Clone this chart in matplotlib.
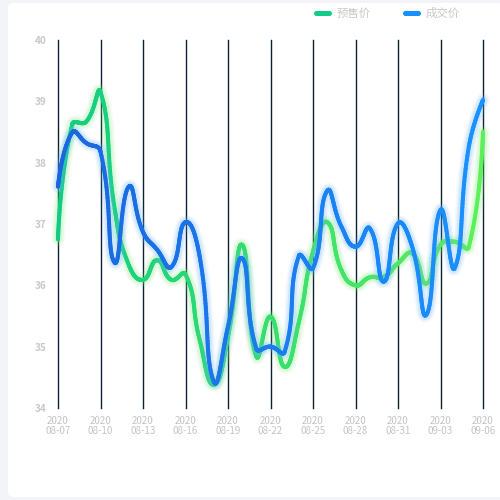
import numpy as np
import matplotlib
matplotlib.use("Agg")
import matplotlib.pyplot as plt
from matplotlib.collections import LineCollection
from matplotlib.patches import FancyBboxPatch
import matplotlib.colors as mcolors

plt.rcParams['font.family'] = ['Noto Sans CJK SC', 'DejaVu Sans']

# ---- data ----
dates = ["08-07", "08-08", "08-09", "08-10", "08-11", "08-12", "08-13", "08-14",
         "08-15", "08-16", "08-17", "08-18", "08-19", "08-20", "08-21", "08-22",
         "08-23", "08-24", "08-25", "08-26", "08-27", "08-28", "08-29", "08-30",
         "08-31", "09-01", "09-02", "09-03", "09-04", "09-05", "09-06"]
year = "2020"
presale = [36.75, 38.62, 38.67, 39.15, 37.25, 36.33, 36.09, 36.41, 36.09, 36.18,
           35.11, 34.38, 35.16, 36.66, 34.84, 35.49, 34.67, 35.40, 36.55, 37.03,
           36.25, 36.00, 36.13, 36.14, 36.36, 36.52, 36.03, 36.66, 36.71, 36.63,
           38.50]
deal = [37.61, 38.49, 38.32, 38.18, 36.37, 37.61, 36.87, 36.58, 36.30, 37.03,
        36.47, 34.43, 35.33, 36.44, 34.97, 35.00, 34.92, 36.48, 36.28, 37.54,
        36.96, 36.63, 36.93, 36.06, 37.01, 36.63, 35.52, 37.23, 36.28, 38.26,
        39.02]
series_names = ["预售价", "成交价"]
y_ticks = [34, 35, 36, 37, 38, 39, 40]
tick_every = 3

W, H = 500, 500
fig = plt.figure(figsize=(5, 5), dpi=100, facecolor="#f3f4f8")
card = FancyBboxPatch((8 / W, 3 / H), 1.1, 494 / H, boxstyle="round,pad=0,rounding_size=0.012",
                      transform=fig.transFigure, facecolor="white", edgecolor="none", zorder=-10)
fig.patches.append(card)

ax = fig.add_axes([58 / W, 1 - 408 / H, (483 - 58) / W, (408 - 40) / H])
ax.set_zorder(5)
ax.set_facecolor("none")
n = len(dates)
x = np.arange(n)
ax.set_xlim(0, n - 1)
ax.set_ylim(34, 40)
for s in ax.spines.values():
    s.set_visible(False)

xt = x[::tick_every]
ax.set_xticks(xt)
ax.set_xticklabels([f"{year}\n{dates[i]}" for i in xt], fontsize=7, color="#c4c4c4",
                   linespacing=0.95)
ax.set_yticks(y_ticks)
ax.set_yticklabels([str(v) for v in y_ticks], fontsize=7.2, color="#c8c8c8", fontweight="bold")
ax.tick_params(axis="both", length=0)
ax.tick_params(axis="x", pad=6)
ax.tick_params(axis="y", pad=8)
for xi in xt:
    ax.axvline(xi, color="#0b2233", lw=1.0, zorder=1, clip_on=False)

fig.canvas.draw()


def smooth_curve(xs, ys, smooth=0.5, per=40):
    pts = ax.transData.transform(np.column_stack([xs, ys]))
    m = len(pts)
    cp_before = pts.copy()
    cp_after = pts.copy()
    for i in range(1, m - 1):
        v = pts[i + 1] - pts[i - 1]
        d0 = np.hypot(*(pts[i] - pts[i - 1]))
        d1 = np.hypot(*(pts[i + 1] - pts[i]))
        s = d0 + d1
        if s > 0:
            d0 /= s
            d1 /= s
        cp_before[i] = pts[i] - v * smooth * d0
        cp_after[i] = pts[i] + v * smooth * d1
    t = np.linspace(0, 1, per)[:, None]
    out = []
    for i in range(m - 1):
        P0, P1, P2, P3 = pts[i], cp_after[i], cp_before[i + 1], pts[i + 1]
        seg = ((1 - t) ** 3) * P0 + 3 * ((1 - t) ** 2) * t * P1 + 3 * (1 - t) * t ** 2 * P2 + t ** 3 * P3
        out.append(seg if i == 0 else seg[1:])
    out = np.vstack(out)
    return ax.transData.inverted().transform(out)


def draw_series(vals, c_left, c_right, glow, z):
    curve = smooth_curve(x, vals)
    # glow
    for lw, a in [(10, 0.07), (8, 0.11), (6, 0.16)]:
        ax.plot(curve[:, 0], curve[:, 1], color=glow, lw=lw, alpha=a,
                solid_capstyle="round", solid_joinstyle="round", zorder=z, clip_on=False)
    segs = np.stack([curve[:-1], curve[1:]], axis=1)
    frac = (segs[:, 0, 0] + segs[:, 1, 0]) / 2 / (n - 1)
    c0 = np.array(mcolors.to_rgb(c_left))
    c1 = np.array(mcolors.to_rgb(c_right))
    cols = c0[None, :] * (1 - frac[:, None]) + c1[None, :] * frac[:, None]
    lc = LineCollection(segs, colors=cols, linewidths=2.9, capstyle="round",
                        joinstyle="round", zorder=z + 1, clip_on=False)
    ax.add_collection(lc)


draw_series(presale, "#10cc86", "#5df05a", "#7ff07a", 3)
draw_series(deal, "#1a66de", "#1a92ff", "#6cb8ff", 5)

# legend
leg = [(314, "#14cc8a", series_names[0]), (403, "#1890ff", series_names[1])]
for lx, col, name in leg:
    p = FancyBboxPatch((lx / W, 1 - 16 / H), 18 / W, 5 / H,
                       boxstyle="round,pad=0,rounding_size=0.005",
                       transform=fig.transFigure, facecolor=col, edgecolor="none")
    fig.patches.append(p)
    fig.text((lx + 23) / W, 1 - 13.5 / H, name, fontsize=8.2, color="#c8c8c8",
             va="center", ha="left")

fig.savefig("out.png", dpi=100, facecolor=fig.get_facecolor())
